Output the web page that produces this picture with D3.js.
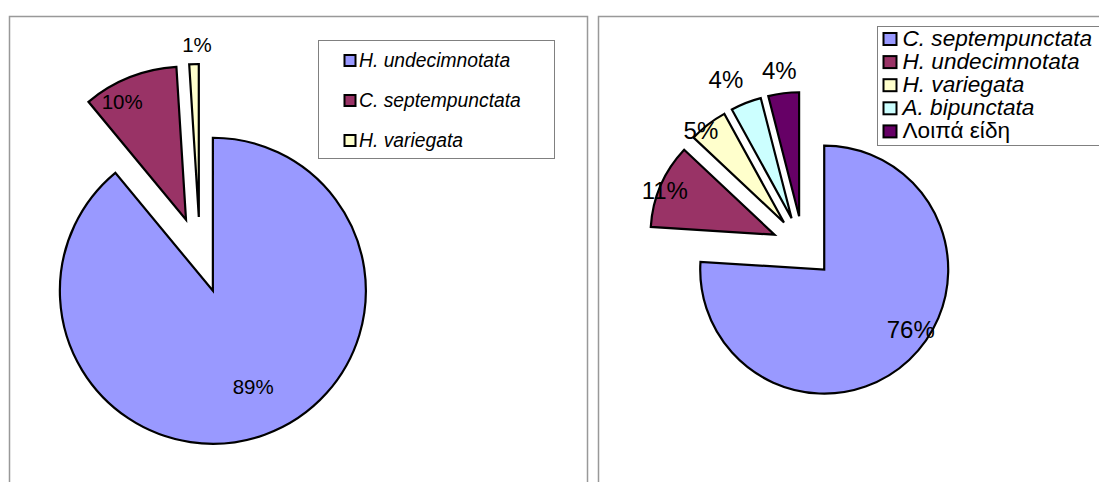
<!DOCTYPE html>
<html>
<head>
<meta charset="utf-8">
<script src="https://cdn.jsdelivr.net/npm/d3@7/dist/d3.min.js"></script>
<style>
  html, body { margin: 0; padding: 0; background: #ffffff; }
  svg { display: block; }
  text { font-family: "Liberation Sans", Arial, sans-serif; fill: #000; }
</style>
</head>
<body>
<svg id="chart" width="1099" height="482"></svg>
<script>
// Species share of ladybird catches — two sampling sets
const leftCategories = ["H. undecimnotata", "C. septempunctata", "H. variegata"];
const leftValues = [89, 10, 1];
const leftColors = ["#9999FF", "#993366", "#FFFFCC"];

const rightCategories = ["C. septempunctata", "H. undecimnotata", "H. variegata", "A. bipunctata", "Λοιπά είδη"];
const rightValues = [76, 11, 5, 4, 4];
const rightColors = ["#9999FF", "#993366", "#FFFFCC", "#CCFFFF", "#660066"];

// Layout for each panel (label placement: distance as fraction of radius, turn in degrees from the bisector)
const leftLayout = {
  frame: { x: 9.5, y: 16.5, w: 578, h: 500 },
  cx: 200, cy: 255, r: 153, explode: 38, labelSize: 20.5,
  labelPlace: [[0.68, -3], [0.88, -6.7], [1.126, 1.2]],
  legend: { x: 318.5, y: 40.5, w: 236, h: 118, sw: 12, sh: 12, swX: 344.5, textX: 359, base0: 67, step: 40, size: 19.3 }
};
const rightLayout = {
  frame: { x: 598.5, y: 16.5, w: 540, h: 500 },
  cx: 803, cy: 247, r: 124, explode: 31, labelSize: 24,
  labelPlace: [[0.85, -12], [0.955, -1.3], [1.0, -4.3], [1.24, -3.7], [1.19, -0.5]],
  legend: { x: 877.5, y: 26.5, w: 260, h: 119, sw: 14, sh: 13, swX: 883.5, textX: 902.5, base0: 46, step: 23.1, size: 22.6 }
};

const svg = d3.select("#chart");

function drawPanel(categories, values, colors, L) {
  const g = svg.append("g");

  // panel frame
  g.append("rect")
    .attr("x", L.frame.x).attr("y", L.frame.y)
    .attr("width", L.frame.w).attr("height", L.frame.h)
    .attr("fill", "#fff").attr("stroke", "#999").attr("stroke-width", 1.5);

  const pie = d3.pie().sort(null).value(d => d).startAngle(0).endAngle(2 * Math.PI);
  const arcs = pie(values);
  const arc = d3.arc().innerRadius(0).outerRadius(L.r);
  const total = d3.sum(values);

  // exploded slices: each pushed out along its bisector
  const slices = g.append("g").attr("transform", `translate(${L.cx},${L.cy})`);
  arcs.forEach((a, i) => {
    const mid = (a.startAngle + a.endAngle) / 2;
    const dx = Math.sin(mid) * L.explode, dy = -Math.cos(mid) * L.explode;
    const sg = slices.append("g").attr("transform", `translate(${dx},${dy})`);
    sg.append("path")
      .attr("d", arc(a))
      .attr("fill", colors[i])
      .attr("stroke", "#000")
      .attr("stroke-width", 2.2)
      .attr("stroke-linejoin", "miter");
  });

  // percentage labels
  arcs.forEach((a, i) => {
    const mid = (a.startAngle + a.endAngle) / 2;
    const vx = Math.sin(mid) * L.explode, vy = -Math.cos(mid) * L.explode;
    const [f, turn] = L.labelPlace[i];
    const ang = mid + turn * Math.PI / 180;
    const lx = vx + Math.sin(ang) * L.r * f, ly = vy - Math.cos(ang) * L.r * f;
    slices.append("text")
      .attr("x", lx).attr("y", ly)
      .attr("text-anchor", "middle")
      .attr("dominant-baseline", "central")
      .style("font-size", L.labelSize + "px")
      .text(Math.round(values[i] / total * 100) + "%");
  });

  // legend
  const lg = L.legend;
  g.append("rect")
    .attr("x", lg.x).attr("y", lg.y).attr("width", lg.w).attr("height", lg.h)
    .attr("fill", "#fff").attr("stroke", "#808080").attr("stroke-width", 1);
  categories.forEach((c, i) => {
    const base = lg.base0 + i * lg.step;
    g.append("rect")
      .attr("x", lg.swX).attr("y", base - lg.sh)
      .attr("width", lg.sw - 1).attr("height", lg.sh - 1)
      .attr("fill", colors[i]).attr("stroke", "#000").attr("stroke-width", 2);
    const isGreek = /[\u0370-\u03FF]/.test(c);
    g.append("text")
      .attr("x", lg.textX).attr("y", base)
      .style("font-size", lg.size + "px")
      .style("font-style", isGreek ? "normal" : "italic")
      .text(c);
  });
}

drawPanel(leftCategories, leftValues, leftColors, leftLayout);
drawPanel(rightCategories, rightValues, rightColors, rightLayout);
</script>
</body>
</html>
